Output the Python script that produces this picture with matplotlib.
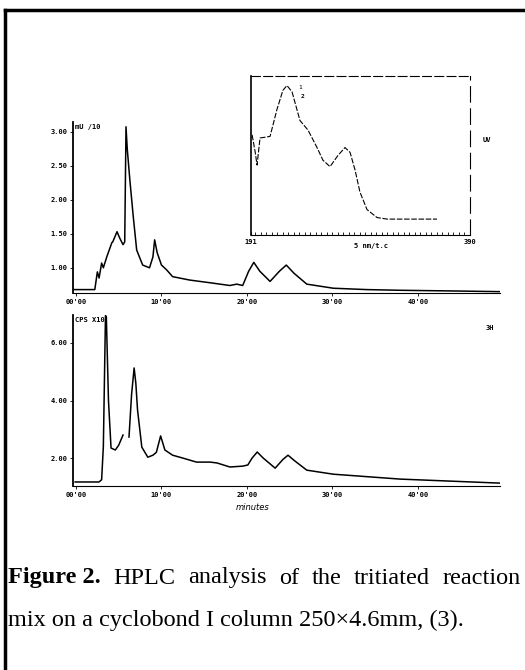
import matplotlib
matplotlib.use("Agg")
import matplotlib.pyplot as plt
from matplotlib.lines import Line2D
import numpy as np

# UV detector trace (top panel), minutes vs mU/10
uv_time = [-0.3, 2.2, 2.5, 2.7, 3.0, 3.2, 3.6, 4.2, 4.3, 4.8, 5.1, 5.5, 5.7, 5.85, 6.0,
           6.3, 6.7, 7.1, 7.8, 8.6, 9.0, 9.2, 9.5, 10.0, 10.6, 11.3, 13.3, 15.7, 18.0,
           18.8, 19.5, 20.2, 20.8, 21.5, 22.7, 23.8, 24.6, 25.5, 27.0, 30.1, 34.0, 37.9,
           44.0, 49.6]
uv_signal = [0.68, 0.68, 0.94, 0.85, 1.07, 1.00, 1.16, 1.37, 1.38, 1.53, 1.44, 1.34, 1.38,
             3.07, 2.74, 2.29, 1.75, 1.26, 1.04, 1.00, 1.16, 1.41, 1.22, 1.04, 0.97, 0.87,
             0.82, 0.78, 0.74, 0.76, 0.74, 0.95, 1.08, 0.95, 0.80, 0.95, 1.04, 0.92, 0.76,
             0.70, 0.68, 0.67, 0.66, 0.65]

# radioactivity trace (bottom panel), CPS x10 ; nan = gap in the recording
rad_time = [-0.1, 2.7, 3.0, 3.2, 3.45, 3.55, 3.8, 4.1, 4.6, 5.0, 5.5, 5.8, 6.2, 6.5, 6.8,
            7.0, 7.2, 7.7, 8.4, 9.0, 9.4, 9.9, 10.4, 11.3, 12.5, 14.1, 15.7, 16.5, 18.0,
            19.5, 20.1, 20.6, 21.2, 21.9, 23.3, 24.2, 24.8, 25.6, 27.0, 30.1, 37.9, 49.6]
rad_signal = [1.17, 1.17, 1.25, 2.4, 6.95, 6.9, 4.0, 2.35, 2.28, 2.45, 2.8, np.nan, 2.73,
              4.2, 5.13, 4.6, 3.67, 2.38, 2.03, 2.1, 2.2, 2.77, 2.28, 2.1, 2.0, 1.86, 1.86,
              1.83, 1.69, 1.72, 1.76, 2.0, 2.21, 2.0, 1.65, 1.95, 2.1, 1.9, 1.58, 1.44,
              1.27, 1.13]

# inset: UV spectrum of the peak
spec_nm = [192, 194.6, 196.5, 199.2, 208.3, 214.6, 220, 223.7, 228.3, 235.5, 242.8, 251,
           256.4, 262.8, 270, 276.4, 281, 285.5, 290, 296.4, 305.5, 314.6, 360]
spec_abs = [0.63, 0.53, 0.44, 0.61, 0.62, 0.79, 0.91, 0.94, 0.90, 0.72, 0.66, 0.55, 0.47,
            0.43, 0.50, 0.55, 0.52, 0.41, 0.27, 0.16, 0.11, 0.10, 0.10]

time_ticks = [0, 10, 20, 30, 40]
time_labels = ["00'00", "10'00", "20'00", "30'00", "40'00"]
uv_ticks = [1.0, 1.5, 2.0, 2.5, 3.0]
rad_ticks = [2, 4, 6]

caption_1 = ['HPLC', 'analysis', 'of', 'the', 'tritiated', 'reaction']
caption_2 = 'mix on a cyclobond I column 250\u00d74.6mm, (3).'

W, H = 525, 670
fig = plt.figure(figsize=(W / 100, H / 100), dpi=100)


def box(x0, y0, x1, y1):
    # pixel box (top-left origin) -> figure fraction rect
    return [x0 / W, 1 - y1 / H, (x1 - x0) / W, (y1 - y0) / H]


mono = dict(family='DejaVu Sans Mono', size=5, weight='bold')


def style(ax, yticks):
    for s in ['top', 'right']:
        ax.spines[s].set_visible(False)
    ax.spines['left'].set_linewidth(1.3)
    ax.spines['bottom'].set_linewidth(0.8)
    ax.set_xticks(time_ticks)
    ax.set_xticklabels(time_labels, **mono)
    ax.set_yticks(yticks)
    ax.set_yticklabels(['%.2f' % v for v in yticks], **mono)
    ax.tick_params(length=2, width=0.6, pad=2)
    ax.set_xlim(-0.35, 49.6)


ax1 = fig.add_axes(box(73, 122, 500, 293))
ax1.plot(uv_time, uv_signal, color='black', lw=1.1)
style(ax1, uv_ticks)
ax1.set_ylim(0.63, 3.14)
ax1.text(0.005, 0.97, 'mU /10', transform=ax1.transAxes, ha='left', va='center', **mono)

ax2 = fig.add_axes(box(73, 315, 500, 486))
ax2.plot(rad_time, rad_signal, color='black', lw=1.1)
style(ax2, rad_ticks)
ax2.set_ylim(1.03, 6.97)
ax2.text(0.005, 0.97, 'CPS X10', transform=ax2.transAxes, ha='left', va='center', **mono)
ax2.text(0.42, -0.125, 'minutes', transform=ax2.transAxes, ha='center', va='center',
         family='DejaVu Sans', style='italic', size=6)

fig.text(487 / W, 1 - 140 / H, 'UV', ha='center', va='center', **mono)
fig.text(490 / W, 1 - 328 / H, '3H', ha='center', va='center', **mono)

# inset spectrum
ins = fig.add_axes(box(251, 76, 470, 235))
ins.plot(spec_nm, spec_abs, color='black', lw=0.8, ls=(0, (5, 1.5)))
ins.set_xlim(191, 390)
ins.set_ylim(0, 1)
ins.set_yticks([])
ins.set_xticks([191, 390])
ins.set_xticklabels(['191', '390'], **mono)
ins.set_xticks(np.arange(195, 390, 5), minor=True)
ins.tick_params(axis='x', which='both', direction='in', length=2, width=0.6, pad=3)
ins.spines['left'].set_linewidth(1.2)
ins.spines['bottom'].set_linewidth(0.8)
ins.spines['top'].set_linestyle((0, (8, 3)))
ins.spines['right'].set_linestyle((0, (14, 6)))
ins.text(0.55, -0.05, '5 nm/t.c', transform=ins.transAxes, ha='center', va='top', **mono)
ins.text(0.225, 0.93, '1', transform=ins.transAxes, ha='center', va='center',
         family='DejaVu Sans Mono', size=4.5)
ins.text(0.235, 0.87, '2', transform=ins.transAxes, ha='center', va='center',
         family='DejaVu Sans Mono', size=4.5, weight='bold')

# page frame from the scan
fig.add_artist(Line2D([5 / W, 5 / W], [0, 1 - 10 / H], color='black', lw=2.5))
fig.add_artist(Line2D([5 / W, 1], [1 - 10 / H, 1 - 10 / H], color='black', lw=2.5))

# caption, first line justified to the right edge
cap = dict(family='Liberation Serif', size=17.5, va='center')
r = fig.canvas.get_renderer()
y1 = 1 - 578 / H
t1 = fig.text(8 / W, y1, 'Figure 2.', weight='bold', **cap)
x_end = t1.get_window_extent(r).x1
words = [fig.text(0, y1, w, **cap) for w in caption_1]
widths = [w.get_window_extent(r).width for w in words]
gap = (521 - x_end - sum(widths)) / len(words)
x = x_end
for w, wd in zip(words, widths):
    x += gap
    w.set_x(x / W)
    x += wd
fig.text(8 / W, 1 - 620 / H, caption_2, **cap)

fig.savefig('out.png', dpi=100)
